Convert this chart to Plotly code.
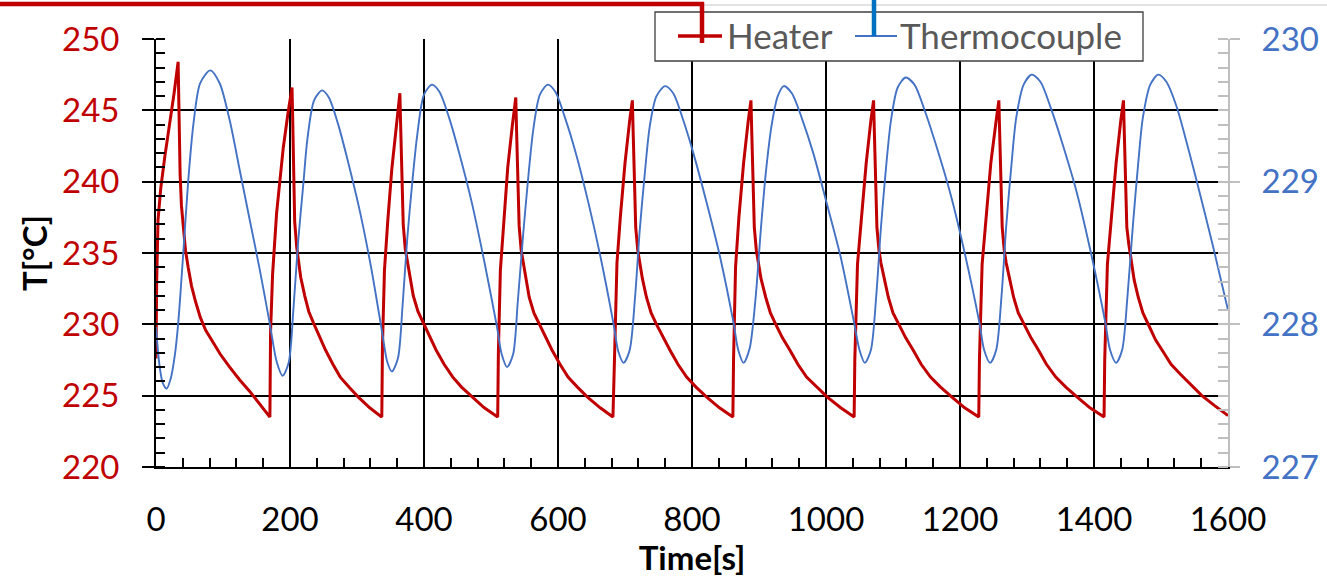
import plotly.graph_objects as go

# ---------------- data ----------------
heater_time = [
    0, 1, 3, 7, 13, 20, 27, 33,
    34, 36, 38, 41, 44, 48, 53, 59, 66, 74, 83, 96, 110, 125, 140, 155, 170,
    171, 174, 180, 190, 197, 203,
    204, 206, 207, 210, 213, 216, 222, 228, 235, 244, 253, 264, 275, 288, 302, 319, 337,
    338, 341, 346, 352, 359, 364,
    365, 367, 369, 372, 375, 379, 384, 391, 399, 409, 418, 430, 443, 456, 472, 490, 510,
    511, 514, 519, 525, 532, 537,
    538, 540, 542, 545, 548, 552, 557, 564, 572, 582, 591, 603, 615, 629, 644, 663, 682,
    684, 688, 693, 700, 707, 711,
    712, 714, 716, 719, 722, 726, 732, 739, 747, 757, 767, 779, 792, 806, 822, 841, 861,
    862, 865, 870, 877, 884, 888,
    889, 891, 893, 896, 899, 903, 910, 917, 925, 935, 946, 958, 971, 986, 1002, 1022, 1042,
    1043, 1047, 1053, 1060, 1067, 1071,
    1072, 1074, 1076, 1079, 1082, 1087, 1093, 1100, 1109, 1119, 1130, 1142, 1156, 1171, 1188, 1207, 1228,
    1229, 1233, 1239, 1246, 1254, 1258,
    1259, 1261, 1263, 1266, 1269, 1274, 1280, 1287, 1296, 1306, 1317, 1329, 1343, 1358, 1375, 1394, 1415,
    1416, 1420, 1426, 1433, 1440, 1444,
    1445, 1447, 1449, 1452, 1455, 1460, 1466, 1473, 1482, 1492, 1503, 1515, 1529, 1544, 1561, 1580, 1600,
]
heater_temp = [
    227.6, 233.0, 237.3, 239.5, 241.7, 243.8, 246.2, 248.4,
    245.5, 240.5, 238.3, 236.4, 235.2, 234.0, 232.7, 231.6, 230.5, 229.6, 228.9, 227.9, 227.0, 226.1, 225.3, 224.4, 223.5,
    229.5, 233.5, 237.8, 242.4, 244.8, 246.6,
    244.5, 240.3, 237.2, 235.4, 234.4, 233.3, 232.0, 230.9, 230.1, 229.1, 228.2, 227.2, 226.3, 225.6, 224.9, 224.15, 223.5,
    228.5, 233.8, 237.3, 240.9, 244.0, 246.2,
    244.2, 240.1, 237.0, 235.3, 234.4, 233.3, 232.0, 230.9, 230.1, 229.1, 228.2, 227.2, 226.3, 225.6, 224.9, 224.15, 223.5,
    228.0, 233.8, 237.4, 241.0, 244.0, 245.9,
    243.9, 239.9, 236.9, 235.2, 234.3, 233.2, 231.9, 230.8, 230.0, 229.05, 228.2, 227.2, 226.3, 225.6, 224.9, 224.15, 223.5,
    227.0, 234.3, 237.5, 241.3, 244.3, 245.7,
    243.8, 239.8, 236.8, 235.2, 234.3, 233.2, 231.9, 230.8, 230.0, 229.05, 228.2, 227.2, 226.3, 225.6, 224.9, 224.15, 223.5,
    227.5, 234.0, 237.5, 241.3, 244.3, 245.7,
    243.8, 239.8, 236.8, 235.2, 234.3, 233.2, 231.9, 230.8, 230.0, 229.05, 228.2, 227.2, 226.3, 225.6, 224.9, 224.15, 223.5,
    227.5, 234.2, 237.5, 241.3, 244.3, 245.7,
    243.8, 239.8, 236.8, 235.2, 234.3, 233.2, 231.9, 230.8, 230.0, 229.05, 228.2, 227.2, 226.3, 225.6, 224.9, 224.15, 223.5,
    227.5, 234.2, 237.5, 241.3, 244.3, 245.7,
    243.8, 239.8, 236.8, 235.2, 234.3, 233.2, 231.9, 230.8, 230.0, 229.05, 228.2, 227.2, 226.3, 225.6, 224.9, 224.15, 223.5,
    227.5, 234.2, 237.5, 241.3, 244.3, 245.7,
    243.8, 239.8, 236.8, 235.6, 234.6, 233.1, 231.9, 230.8, 229.9, 228.9, 228.1, 227.2, 226.5, 225.8, 225.0, 224.3, 223.6,
]

tc_time = [
    0, 5, 10, 16, 22, 28, 33, 41, 48, 56, 66, 81, 95, 110, 125, 140, 155, 170, 180, 189,
    198, 205, 212, 220, 226, 236, 248, 258, 272, 285, 303, 321, 338, 345, 352,
    361, 368, 375, 383, 390, 400, 412, 423, 438, 452, 471, 490, 509, 516, 524,
    533, 540, 548, 556, 563, 573, 585, 596, 611, 626, 645, 664, 683, 690, 698,
    707, 715, 722, 730, 737, 747, 760, 772, 787, 802, 822, 842, 862, 869, 877,
    886, 895, 903, 911, 919, 928, 937, 949, 965, 981, 1001, 1022, 1042, 1050, 1058,
    1067, 1075, 1082, 1090, 1097, 1107, 1119, 1132, 1148, 1164, 1186, 1207, 1229, 1236, 1245,
    1254, 1262, 1269, 1277, 1284, 1295, 1307, 1320, 1336, 1352, 1374, 1395, 1417, 1424, 1433,
    1442, 1450, 1458, 1466, 1473, 1484, 1496, 1508, 1523, 1538, 1553, 1578, 1600,
]
tc_temp = [
    227.98, 227.72, 227.59, 227.55, 227.62, 227.78, 228.00, 228.52, 229.00, 229.41, 229.69, 229.78, 229.69, 229.43, 229.08, 228.73, 228.38, 228.00, 227.74, 227.64,
    227.73, 228.10, 228.57, 228.99, 229.30, 229.57, 229.64, 229.59, 229.40, 229.17, 228.82, 228.40, 227.93, 227.74, 227.67,
    227.76, 228.13, 228.60, 229.02, 229.33, 229.61, 229.68, 229.63, 229.44, 229.21, 228.86, 228.44, 227.98, 227.79, 227.70,
    227.79, 228.16, 228.63, 229.05, 229.36, 229.61, 229.68, 229.63, 229.44, 229.21, 228.86, 228.46, 228.00, 227.81, 227.73,
    227.82, 228.19, 228.66, 229.08, 229.39, 229.60, 229.67, 229.62, 229.43, 229.20, 228.85, 228.47, 228.01, 227.82, 227.73,
    227.83, 228.19, 228.68, 229.10, 229.40, 229.60, 229.67, 229.62, 229.43, 229.20, 228.85, 228.47, 228.01, 227.82, 227.73,
    227.82, 228.20, 228.68, 229.12, 229.43, 229.66, 229.73, 229.68, 229.49, 229.26, 228.91, 228.50, 228.01, 227.82, 227.73,
    227.82, 228.20, 228.69, 229.13, 229.45, 229.68, 229.75, 229.70, 229.51, 229.28, 228.93, 228.51, 228.01, 227.82, 227.73,
    227.82, 228.20, 228.69, 229.13, 229.45, 229.68, 229.75, 229.70, 229.53, 229.28, 229.01, 228.54, 228.10,
]

series_names = ["Heater", "Thermocouple"]
x_range = [0, 1600]
y_left_range = [220, 250]
y_right_range = [227, 230]
x_title = "Time[s]"
y_title = "T[°C]"

# ---------------- styling ----------------
RED = "#C00000"
BLUE = "#4472C4"
FONT = "Lato"
W, H = 1327, 577
ML, MR, MT, MB = 156, 99, 39, 110
PW, PH = W - ML - MR, H - MT - MB


def px(X):
    return (X - ML) / PW


def py(Y):
    return (H - MB - Y) / PH


fig = go.Figure()
fig.add_trace(go.Scatter(x=heater_time, y=heater_temp, name=series_names[0], mode="lines",
                         line=dict(color=RED, width=3), yaxis="y"))
fig.add_trace(go.Scatter(x=tc_time, y=tc_temp, name=series_names[1], mode="lines",
                         line=dict(color=BLUE, width=1.9, shape="spline", smoothing=0.8), yaxis="y2"))

fig.update_layout(
    width=W, height=H, autosize=False, margin=dict(l=ML, r=MR, t=MT, b=MB, autoexpand=False),
    paper_bgcolor="white", plot_bgcolor="white", showlegend=False,
    font=dict(family=FONT, size=33, color="black"),
    xaxis=dict(
        range=x_range, tick0=0, dtick=200, showgrid=True, gridcolor="black", gridwidth=1.6,
        showline=True, linecolor="black", linewidth=1.8, ticks="", zeroline=False, automargin=False,
        minor=dict(dtick=40, ticks="inside", ticklen=9, tickcolor="black", tickwidth=1.5, showgrid=False),
        tickfont=dict(family=FONT, size=33, color="black"), ticklabelstandoff=22,
        title=dict(text=x_title, font=dict(family=FONT, size=33, color="black", weight="bold"), standoff=10),
    ),
    yaxis=dict(
        range=y_left_range, tick0=220, dtick=5, showgrid=True, gridcolor="black", gridwidth=1.6,
        showline=True, linecolor="black", linewidth=1.8, ticks="outside", ticklen=12,
        tickcolor="black", tickwidth=1.5, zeroline=False, automargin=False,
        minor=dict(dtick=1, ticks="inside", ticklen=9, tickcolor="black", tickwidth=1.5, showgrid=False),
        tickfont=dict(family=FONT, size=33, color=RED), ticklabelstandoff=16,
        title=dict(text=y_title, font=dict(family=FONT, size=33, color="black", weight="bold"), standoff=5),
    ),
    yaxis2=dict(
        range=y_right_range, tick0=227, dtick=1, overlaying="y", side="right", showgrid=False,
        showline=True, linecolor="#BFBFBF", linewidth=1.8, ticks="outside", ticklen=10,
        tickcolor="#BFBFBF", tickwidth=1.5, zeroline=False, automargin=False,
        minor=dict(dtick=0.1, ticks="inside", ticklen=10, tickcolor="#BFBFBF", tickwidth=1.5, showgrid=False),
        tickfont=dict(family=FONT, size=33, color=BLUE), ticklabelstandoff=15,
    ),
)

shapes = [
    dict(type="line", xref="paper", yref="paper", x0=px(702), x1=px(W), y0=py(5), y1=py(5),
         line=dict(color="#D9D9D9", width=1.5)),
    dict(type="rect", xref="paper", yref="paper", x0=px(655), x1=px(1143), y0=py(61), y1=py(12),
         fillcolor="white", line=dict(color="#404040", width=1.3), layer="above"),
    dict(type="line", xref="paper", yref="paper", x0=px(678), x1=px(722), y0=py(36), y1=py(36),
         line=dict(color=RED, width=3.5), layer="above"),
    dict(type="line", xref="paper", yref="paper", x0=px(855), x1=px(897), y0=py(36), y1=py(36),
         line=dict(color=BLUE, width=2), layer="above"),
    dict(type="line", xref="paper", yref="paper", x0=px(0), x1=px(704), y0=py(4), y1=py(4),
         line=dict(color=RED, width=4.5), layer="above"),
    dict(type="line", xref="paper", yref="paper", x0=px(702), x1=px(702), y0=py(2), y1=py(43),
         line=dict(color=RED, width=4.5), layer="above"),
    dict(type="line", xref="paper", yref="paper", x0=px(874), x1=px(874), y0=py(0), y1=py(36),
         line=dict(color="#0070C0", width=4.5), layer="above"),
]
fig.update_layout(shapes=shapes)

fig.add_annotation(x=px(725), y=py(35), xref="paper", yref="paper", text=series_names[0],
                   showarrow=False, xanchor="left", yanchor="middle",
                   font=dict(family=FONT, size=35, color="#595959"))
fig.add_annotation(x=px(898), y=py(35), xref="paper", yref="paper", text=series_names[1],
                   showarrow=False, xanchor="left", yanchor="middle",
                   font=dict(family=FONT, size=35, color="#595959"))

fig.write_html(
    "out.html",
    config={"displayModeBar": False, "responsive": False},
    post_script="document.body.style.margin='0';document.body.style.overflow='hidden';",
)
